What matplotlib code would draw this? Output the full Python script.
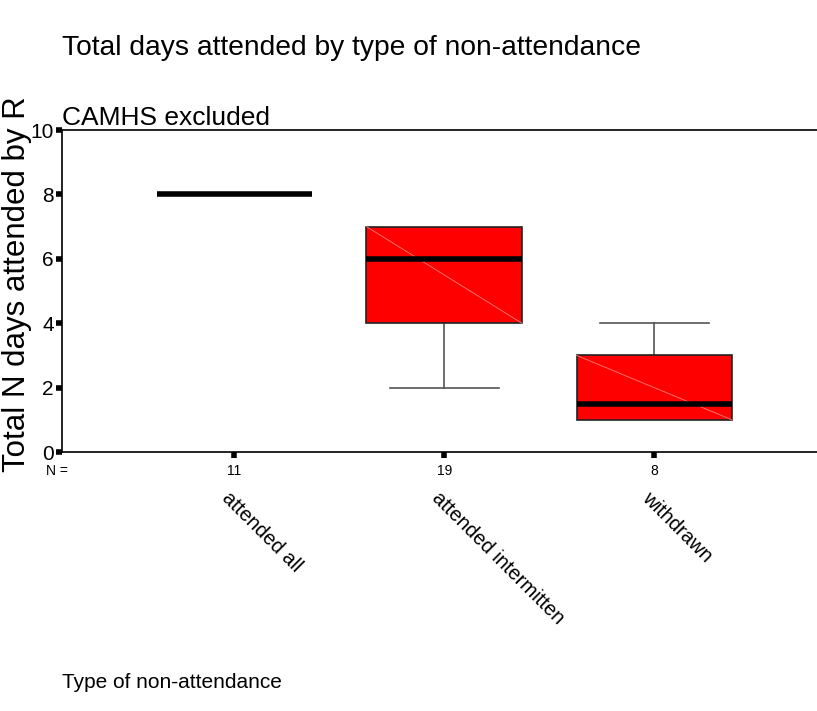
import matplotlib.pyplot as plt
from matplotlib.patches import Rectangle

plt.rcParams['font.family'] = ['Liberation Sans', 'DejaVu Sans']

categories = ['attended all', 'attended intermitten', 'withdrawn']
counts = [11, 19, 8]
q1 = [8, 4, 1]
median = [8, 6, 1.5]
q3 = [8, 7, 3]
whislo = [8, 2, 1]
whishi = [8, 7, 4]
yticks = [0, 2, 4, 6, 8, 10]

fig = plt.figure(figsize=(8.17, 7.11), dpi=100)
ax = fig.add_axes([62 / 817, 1 - 452 / 711, 820 / 817, 322 / 711])

pos = [1, 2, 3]
bw = 0.74
for i, p in enumerate(pos):
    # whiskers + caps
    if whishi[i] > q3[i]:
        ax.plot([p, p], [q3[i], whishi[i]], color='#555555', lw=1.2, zorder=2)
        ax.plot([p - bw * 0.35, p + bw * 0.35], [whishi[i]] * 2, color='#555555', lw=1.2, zorder=2)
    if whislo[i] < q1[i]:
        ax.plot([p, p], [whislo[i], q1[i]], color='#555555', lw=1.2, zorder=2)
        ax.plot([p - bw * 0.35, p + bw * 0.35], [whislo[i]] * 2, color='#555555', lw=1.2, zorder=2)
    # box
    if q3[i] > q1[i]:
        ax.add_patch(Rectangle((p - bw / 2, q1[i]), bw, q3[i] - q1[i], facecolor='#ff0000',
                               edgecolor='#222222', lw=1.2, zorder=3))
        # faint diagonal artefact
        ax.plot([p - bw / 2, p + bw / 2], [q3[i], q1[i]], color='#ff8080', lw=0.6, zorder=4)
    ax.plot([p - bw / 2, p + bw / 2], [median[i]] * 2, color='black', lw=4, zorder=5,
            solid_capstyle='butt')

ax.set_xlim(0.18, 0.18 + 820 / 210)
ax.set_ylim(0, 10)
ax.set_yticks(yticks)
ax.set_yticklabels([str(t) for t in yticks], fontsize=15)
ax.set_xticks(pos)
ax.set_xticklabels([])
ax.tick_params(axis='y', direction='out', length=4, width=4, pad=2)
ax.tick_params(axis='x', direction='out', length=4, width=4)
ax.spines['right'].set_visible(False)
for s in ['left', 'bottom', 'top']:
    ax.spines[s].set_linewidth(1.2)

# N row and rotated category labels
fig.text(57 / 817, 1 - 471 / 711, 'N =', fontsize=10, ha='center', va='center')
for p, n, c in zip(pos, counts, categories):
    ax.annotate(str(n), xy=(p, 0), xycoords=('data', 'axes fraction'), xytext=(0, -14),
                textcoords='offset points', ha='center', va='center', fontsize=10)
    ax.annotate(c, xy=(p, 0), xycoords=('data', 'axes fraction'), xytext=(-2, -26),
                textcoords='offset points', ha='left', va='top', rotation=-45,
                rotation_mode='anchor', fontsize=14.5)

fig.text(62 / 817, 1 - 48 / 711, 'Total days attended by type of non-attendance',
         fontsize=20.3, ha='left', va='center')
fig.text(62 / 817, 1 - 118 / 711, 'CAMHS excluded', fontsize=19, ha='left', va='center')
fig.text(17 / 817, 1 - 284 / 711, 'Total N days attended by R', fontsize=22.5,
         rotation=90, ha='center', va='center')
fig.text(62 / 817, 1 - 682 / 711, 'Type of non-attendance', fontsize=15,
         ha='left', va='center')

fig.savefig('out.png', dpi=100)
